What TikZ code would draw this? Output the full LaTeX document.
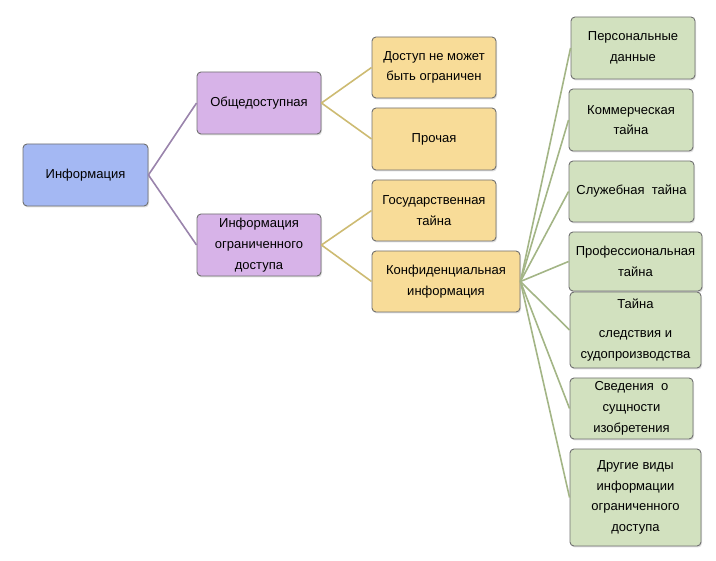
\documentclass[tikz,border=0pt]{standalone}
\usepackage{fontspec}
\setmainfont{Liberation Sans}
\usetikzlibrary{shadows}
\definecolor{infoblue}{HTML}{A4B8F3}
\definecolor{accpurple}{HTML}{D7B3E8}
\definecolor{subyellow}{HTML}{F8DC98}
\definecolor{kindgreen}{HTML}{D2E1BF}
\definecolor{boxline}{HTML}{707070}
\definecolor{linkpurple}{HTML}{9A84AC}
\definecolor{linkyellow}{HTML}{CDBB72}
\definecolor{linkgreen}{HTML}{A3B586}

\begin{document}
\begin{tikzpicture}[x=1pt,y=-1pt,
    box/.style={draw=boxline,line width=0.9pt,rounded corners=4pt,inner sep=0pt,
        align=center,font=\fontsize{13}{20.7}\selectfont,
        drop shadow={shadow xshift=1pt,shadow yshift=-1.5pt,opacity=0.25}},
    link/.style={line width=1.6pt}]
        \useasboundingbox (0,0) rectangle (716,561);
        % levels
        \node[box,fill=infoblue,minimum width=125pt,minimum height=62pt] (info) at (85.5,175) {Информация};
        \node[box,fill=accpurple,minimum width=124pt,minimum height=62pt] (obsh) at (259,103) {Общедоступная};
        \node[box,fill=accpurple,minimum width=124pt,minimum height=62pt] (ogr) at (259,245) {Информация\\ограниченного\\доступа};
        \node[box,fill=subyellow,minimum width=124pt,minimum height=61pt] (dostup) at (434,67.5) {Доступ не может\\быть ограничен};
        \node[box,fill=subyellow,minimum width=124pt,minimum height=62pt] (proch) at (434,139) {Прочая};
        \node[box,fill=subyellow,minimum width=124pt,minimum height=61pt] (gos) at (434,210.5) {Государственная\\тайна};
        \node[box,fill=subyellow,minimum width=148pt,minimum height=61pt] (konf) at (446,281.5) {Конфиденциальная\\информация};
        % kinds
        \node[box,fill=kindgreen,minimum width=124pt,minimum height=62pt] (pers) at (633,48) {Персональные\\данные};
        \node[box,fill=kindgreen,minimum width=124pt,minimum height=62pt] (komm) at (631,120) {Коммерческая\\тайна};
        \node[box,fill=kindgreen,minimum width=125pt,minimum height=61pt] (sluzh) at (631.5,191.5) {Служебная\ \ тайна};
        \node[box,fill=kindgreen,minimum width=133pt,minimum height=59pt] (prof) at (635.5,261.5) {Профессиональная\\тайна};
        \node[box,fill=kindgreen,minimum width=131pt,minimum height=76pt] (sled) at (635.5,330) {Тайна\\[8pt]следствия и\\судопроизводства};
        \node[box,fill=kindgreen,minimum width=123pt,minimum height=61pt] (sved) at (631.5,408.5) {Сведения\ \ о\\сущности\\изобретения};
        \node[box,fill=kindgreen,minimum width=131pt,minimum height=97pt] (drug) at (635.5,497.5) {Другие виды\\информации\\ограниченного\\доступа};
        % links
        \draw[link,linkpurple] (info.east) -- (obsh.west);
        \draw[link,linkpurple] (info.east) -- (ogr.west);
        \draw[link,linkyellow] (obsh.east) -- (dostup.west);
        \draw[link,linkyellow] (obsh.east) -- (proch.west);
        \draw[link,linkyellow] (ogr.east) -- (gos.west);
        \draw[link,linkyellow] (ogr.east) -- (konf.west);
        \foreach \k in {pers,komm,sluzh,prof,sled,sved,drug}
            \draw[link,linkgreen] (konf.east) -- (\k.west);
    \end{tikzpicture}
\end{document}
